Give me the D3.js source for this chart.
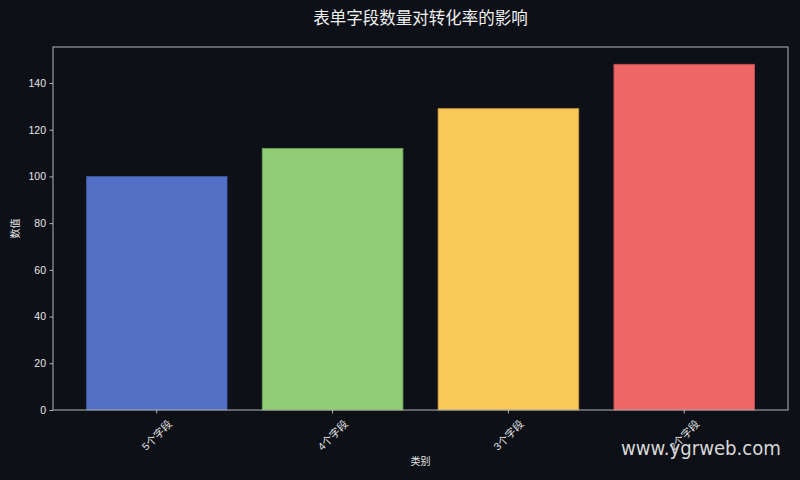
<!DOCTYPE html>
<html>
<head>
<meta charset="utf-8">
<script src="https://cdn.jsdelivr.net/npm/d3@7"></script>
<style>
  body { margin: 0; background: #0d1017; }
  svg { display: block; }
</style>
</head>
<body>
<div id="chart"></div>
<script>
// data
var categories = ["5个字段", "4个字段", "3个字段", "2个字段"];
var values = [100, 112, 129, 148];
var colors = ["#5470c6", "#91cc75", "#fac858", "#ee6666"];
var edges = ["#3d55a0", "#6fa656", "#c99c3c", "#c04d4d"];
var yTicks = [0, 20, 40, 60, 80, 100, 120, 140];

var W = 800, H = 480;
var margin = {top: 47, right: 12, bottom: 70, left: 53},
    width = W - margin.left - margin.right,
    height = H - margin.top - margin.bottom;

var font = "'Liberation Sans', 'Noto Sans CJK SC', sans-serif";

var svg = d3.select("#chart")
  .append("svg")
    .attr("width", W)
    .attr("height", H)
    .style("background", "#0d1017");

var g = svg.append("g")
  .attr("transform", "translate(" + margin.left + "," + margin.top + ")");

// scales
var x = d3.scaleBand()
  .domain(categories)
  .range([0, width])
  .paddingInner(0.2)
  .paddingOuter(0.19);

var y = d3.scaleLinear()
  .domain([0, d3.max(values) * 1.05])
  .range([height, 0]);

// bars
g.selectAll("rect.bar")
  .data(values)
  .enter()
  .append("rect")
    .attr("class", "bar")
    .attr("x", function(d, i) { return x(categories[i]); })
    .attr("y", function(d) { return y(d); })
    .attr("width", x.bandwidth())
    .attr("height", function(d) { return height - y(d); })
    .attr("fill", function(d, i) { return colors[i]; })
    .attr("stroke", function(d, i) { return edges[i]; })
    .attr("stroke-width", 0.8);

// frame
g.append("rect")
  .attr("x", 0).attr("y", 0)
  .attr("width", width).attr("height", height)
  .attr("fill", "none")
  .attr("stroke", "#b4b4b4")
  .attr("stroke-width", 1);

// y axis
var yAxis = g.append("g")
  .call(d3.axisLeft(y).tickValues(yTicks).tickSize(3.5).tickPadding(3.5));
yAxis.select(".domain").remove();
yAxis.selectAll("line").attr("stroke", "#b4b4b4");
yAxis.selectAll("text")
  .attr("fill", "#e6e6e6")
  .style("font-family", font)
  .style("font-size", "10.5px");

// x axis
var xAxis = g.append("g")
  .attr("transform", "translate(0," + height + ")")
  .call(d3.axisBottom(x).tickSize(3.5).tickFormat(""));
xAxis.select(".domain").remove();
xAxis.selectAll("line").attr("stroke", "#b4b4b4");

// rotated x tick labels
g.selectAll("text.xlab")
  .data(categories)
  .enter()
  .append("text")
    .attr("class", "xlab")
    .attr("transform", function(d) {
      var cx = x(d) + x.bandwidth() / 2;
      return "translate(" + cx + "," + (height + 25) + ") rotate(-45)";
    })
    .attr("text-anchor", "middle")
    .attr("dominant-baseline", "central")
    .attr("fill", "#e6e6e6")
    .style("font-family", font)
    .style("font-size", "10.5px")
    .text(function(d) { return d; });

// axis labels
svg.append("text")
  .attr("x", margin.left + width / 2)
  .attr("y", 465)
  .attr("text-anchor", "middle")
  .attr("fill", "#e6e6e6")
  .style("font-family", font)
  .style("font-size", "10px")
  .text("类别");

svg.append("text")
  .attr("transform", "translate(19," + (margin.top + height / 2) + ") rotate(-90)")
  .attr("text-anchor", "middle")
  .attr("fill", "#e6e6e6")
  .style("font-family", font)
  .style("font-size", "10px")
  .text("数值");

// title
svg.append("text")
  .attr("x", margin.left + width / 2)
  .attr("y", 24)
  .attr("text-anchor", "middle")
  .attr("fill", "#f0f0f0")
  .style("font-family", font)
  .style("font-size", "16.5px")
  .text("表单字段数量对转化率的影响");

// watermark
svg.append("text")
  .attr("x", 781)
  .attr("y", 455)
  .attr("text-anchor", "end")
  .attr("fill", "#d8d8d8")
  .attr("textLength", 160)
  .attr("lengthAdjust", "spacingAndGlyphs")
  .style("font-family", "'DejaVu Sans', sans-serif")
  .style("font-size", "20px")
  .text("www.ygrweb.com");
</script>
</body>
</html>
